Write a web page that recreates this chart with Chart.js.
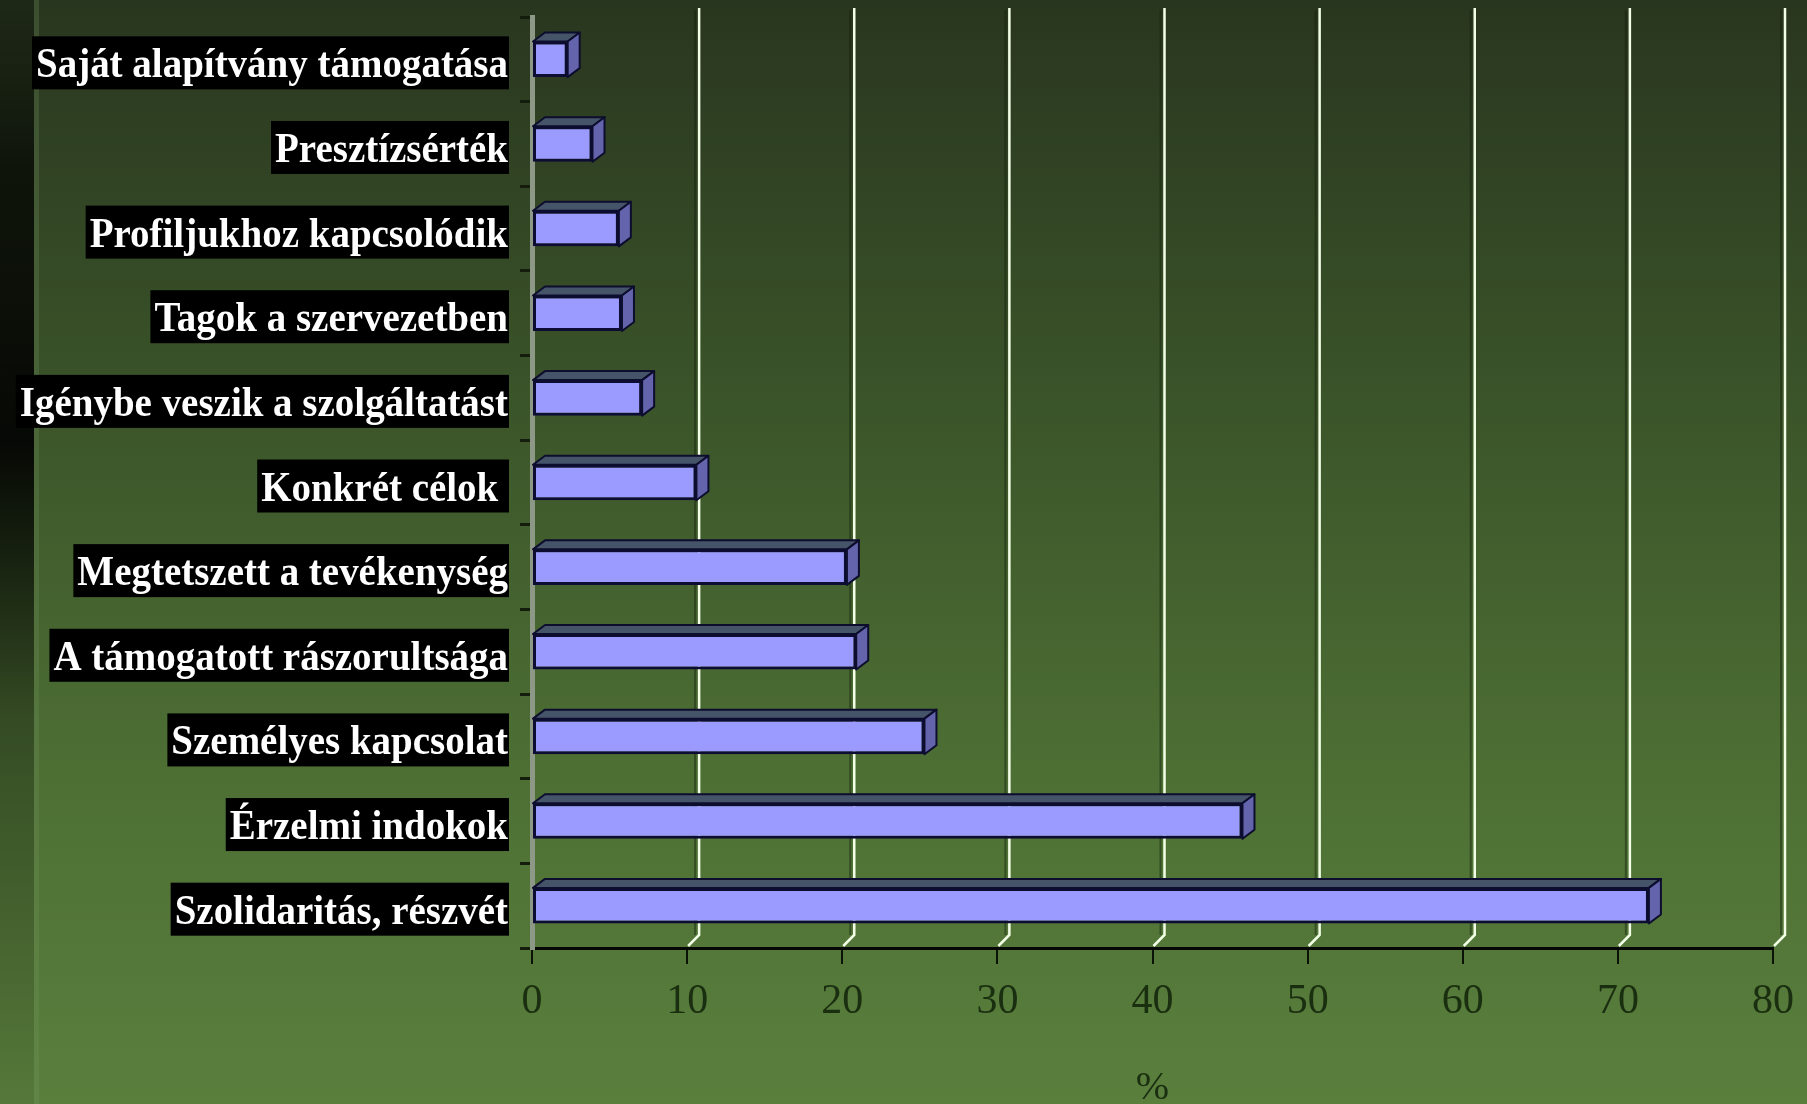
<!DOCTYPE html>
<html lang="hu">
<head>
<meta charset="utf-8">
<title>Támogatás okai (%)</title>
<script src="https://cdn.jsdelivr.net/npm/chart.js@4.4.1/dist/chart.umd.min.js"></script>
<style>
  html, body { margin: 0; padding: 0; background: #3a5229; }
  #chart { display: block; }
</style>
</head>
<body>
<canvas id="chart" width="1807" height="1104"></canvas>
<script>
// Kategóriák (fentről lefelé) és értékek (%)
const categories = [
  "Saját alapítvány támogatása",
  "Presztízsérték",
  "Profiljukhoz kapcsolódik",
  "Tagok a szervezetben",
  "Igénybe veszik a szolgáltatást",
  "Konkrét célok ",
  "Megtetszett a tevékenység",
  "A támogatott rászorultsága",
  "Személyes kapcsolat",
  "Érzelmi indokok",
  "Szolidaritás, részvét"
];
const values = [2.3, 3.9, 5.6, 5.8, 7.1, 10.6, 20.3, 20.9, 25.3, 45.8, 72.0];
const xMin = 0;
const xMax = 80;
const xStep = 10;
const xTitle = "%";

// 3D mélység (px)
const DEPTH_X = 12;
const DEPTH_Y = 9;

document.addEventListener("DOMContentLoaded", () => {
  const ctx = document.getElementById("chart").getContext("2d");

  /**
   * Háttér: zöld függőleges színátmenet + sötét sáv bal oldalt
   */
  const backgroundPlugin = {
    id: "slideBackground",
    beforeDraw(chart) {
      const c = chart.ctx;
      const w = chart.width, h = chart.height;
      c.save();
      const g = c.createLinearGradient(0, 0, 0, h);
      g.addColorStop(0, "#29361f");
      g.addColorStop(0.35, "#3a5329");
      g.addColorStop(0.7, "#4d6f34");
      g.addColorStop(1, "#5a7f3d");
      c.fillStyle = g;
      c.fillRect(0, 0, w, h);

      // bal oldali sötét sáv
      const s = c.createLinearGradient(0, 0, 0, h);
      s.addColorStop(0, "rgba(0,0,0,0.25)");
      s.addColorStop(0.15, "rgba(0,0,0,0.7)");
      s.addColorStop(0.4, "rgba(0,0,0,0.9)");
      s.addColorStop(0.65, "rgba(0,0,0,0.3)");
      s.addColorStop(1, "rgba(0,0,0,0.05)");
      c.fillStyle = s;
      c.fillRect(0, 0, 34, h);
      c.fillStyle = "rgba(120,150,100,0.25)";
      c.fillRect(34, 0, 5, h);
      c.restore();
    }
  };

  /**
   * Hátsó fal rácsvonalai (fehér), a mélységgel eltolva
   */
  const wallGridPlugin = {
    id: "wallGrid",
    beforeDatasetsDraw(chart) {
      const c = chart.ctx;
      const xs = chart.scales.x;
      const area = chart.chartArea;
      c.save();
      for (let v = xMin + xStep; v <= xMax; v += xStep) {
        const px = xs.getPixelForValue(v);
        // árnyék
        c.strokeStyle = "rgba(20,30,12,0.45)";
        c.lineWidth = 2;
        c.beginPath();
        c.moveTo(px + DEPTH_X - 4, area.top - DEPTH_Y + 2);
        c.lineTo(px + DEPTH_X - 4, area.bottom - DEPTH_Y - 4);
        c.stroke();
        // fehér vonal
        c.strokeStyle = "#f2ffe6";
        c.lineWidth = 2.5;
        c.beginPath();
        c.moveTo(px + DEPTH_X, area.top - DEPTH_Y);
        c.lineTo(px + DEPTH_X, area.bottom - DEPTH_Y - 4);
        c.lineTo(px + 1, area.bottom - 2);
        c.stroke();
      }
      c.restore();
    }
  };

  /**
   * 3D hatás: felső és oldalsó lap minden oszlophoz
   */
  const bar3dPlugin = {
    id: "bar3d",
    afterDatasetsDraw(chart) {
      const c = chart.ctx;
      const meta = chart.getDatasetMeta(0);
      c.save();
      c.lineJoin = "round";
      c.strokeStyle = "#0d0d2e";
      c.lineWidth = 2;
      meta.data.forEach(bar => {
        const { x, y, base, height } = bar.getProps(["x", "y", "base", "height"], true);
        const top = y - height / 2;
        const bottom = y + height / 2;
        // felső lap
        c.fillStyle = "#46546a";
        c.beginPath();
        c.moveTo(base, top);
        c.lineTo(base + DEPTH_X, top - DEPTH_Y);
        c.lineTo(x + DEPTH_X, top - DEPTH_Y);
        c.lineTo(x, top);
        c.closePath();
        c.fill();
        c.stroke();
        // oldalsó lap
        c.fillStyle = "#6464ad";
        c.beginPath();
        c.moveTo(x, top);
        c.lineTo(x + DEPTH_X, top - DEPTH_Y);
        c.lineTo(x + DEPTH_X, bottom - DEPTH_Y);
        c.lineTo(x, bottom);
        c.closePath();
        c.fill();
        c.stroke();
      });
      c.restore();
    }
  };

  /**
   * Kategória feliratok fekete dobozban, keskenyített betűvel
   */
  const labelBoxPlugin = {
    id: "labelBoxes",
    afterDraw(chart) {
      const c = chart.ctx;
      const ys = chart.scales.y;
      const right = ys.left - 11;
      c.save();
      c.font = 'bold 43px "Liberation Serif", "Times New Roman", serif';
      const sx = 472 / c.measureText(categories[0]).width;
      categories.forEach((label, i) => {
        const cy = ys.getPixelForTick(i);
        const w = c.measureText(label).width * sx;
        c.fillStyle = "#000";
        c.fillRect(right - w - 5, cy - 23, w + 5, 53);
        c.save();
        c.translate(right - w - 1, cy + 18);
        c.scale(sx, 1);
        c.fillStyle = "#ffffff";
        c.textBaseline = "alphabetic";
        c.textAlign = "left";
        c.fillText(label, 0, 0);
        c.restore();
      });
      c.restore();
    }
  };

  new Chart(ctx, {
    type: "bar",
    data: {
      labels: categories,
      datasets: [{
        data: values,
        backgroundColor: "#9b9bff",
        borderColor: "#0d0d33",
        borderWidth: 3,
        borderSkipped: false,
        barPercentage: 0.42,
        categoryPercentage: 1
      }]
    },
    options: {
      indexAxis: "y",
      responsive: false,
      devicePixelRatio: 1,
      animation: false,
      layout: {
        padding: { left: 520, right: 29, top: 17, bottom: 0 }
      },
      scales: {
        x: {
          min: xMin,
          max: xMax,
          ticks: {
            stepSize: xStep,
            color: "#1a2e10",
            padding: 13,
            font: { family: '"Liberation Serif", "Times New Roman", serif', size: 42 }
          },
          grid: {
            drawOnChartArea: false,
            drawTicks: true,
            tickLength: 16,
            color: "#0b1206",
            lineWidth: 2
          },
          border: { display: true, color: "#050805", width: 3 },
          title: {
            display: true,
            text: xTitle,
            color: "#1a2e10",
            padding: { top: 0, bottom: 0 },
            font: { family: '"Liberation Serif", "Times New Roman", serif', size: 40, lineHeight: 0.8 }
          },
          afterFit: (scale) => { scale.height = 156; }
        },
        y: {
          type: "category",
          ticks: { display: false },
          grid: {
            offset: true,
            drawOnChartArea: false,
            drawTicks: true,
            tickLength: 12,
            color: "#141c0c",
            lineWidth: 3
          },
          border: { display: true, color: "#8e9887", width: 5 }
        }
      },
      plugins: {
        legend: { display: false },
        tooltip: { enabled: false }
      }
    },
    plugins: [backgroundPlugin, wallGridPlugin, bar3dPlugin, labelBoxPlugin]
  });
});
</script>
</body>
</html>
